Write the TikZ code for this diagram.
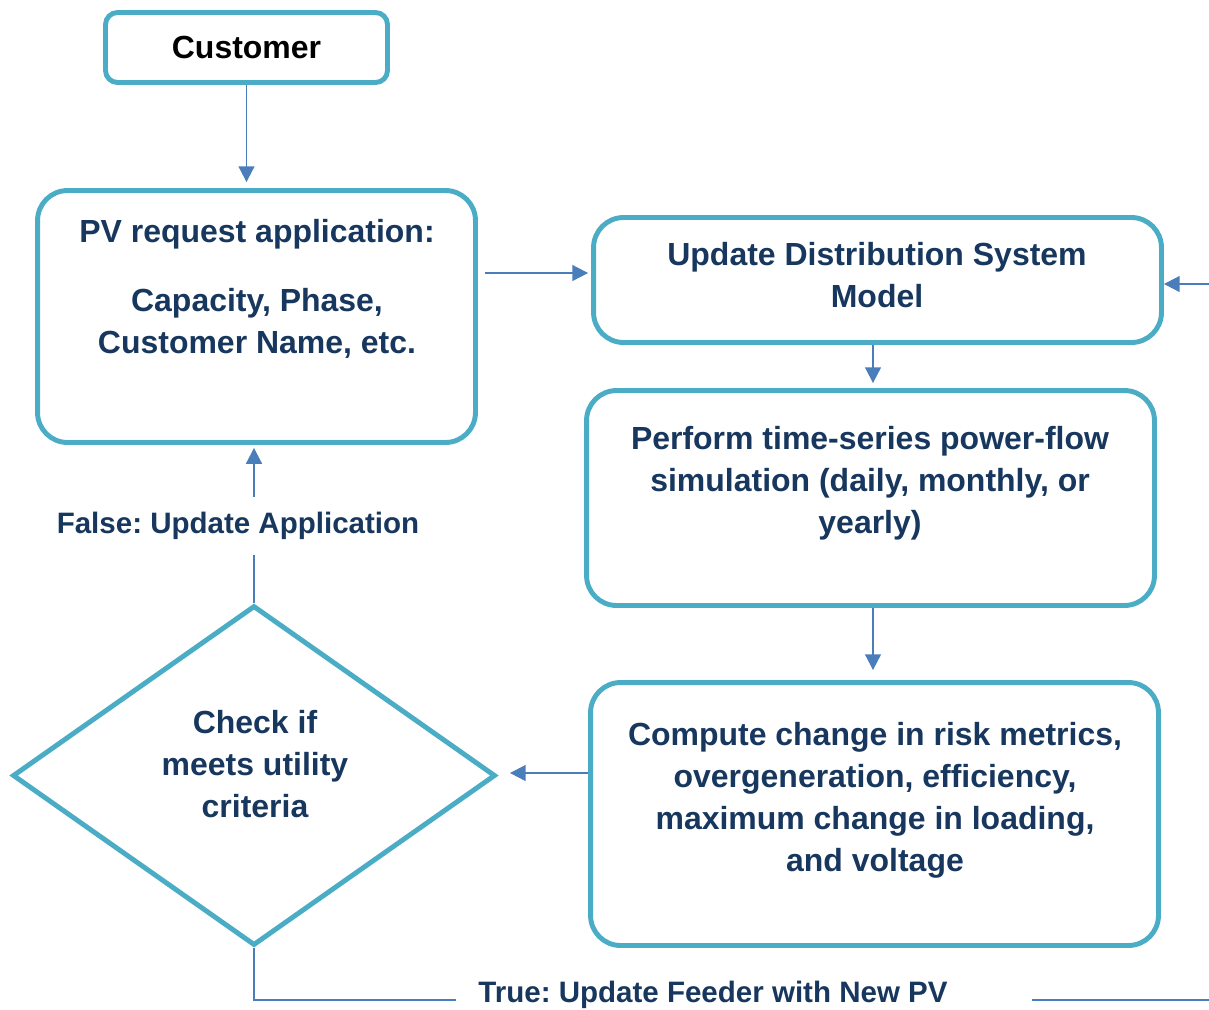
\documentclass[tikz,border=0pt]{standalone}
\usepackage{fontspec}
\setmainfont{Liberation Sans}
\frenchspacing
\usetikzlibrary{arrows.meta,shapes.geometric,positioning}
\definecolor{boxline}{HTML}{4BACC6}
\definecolor{linkline}{HTML}{4A7EBB}
\definecolor{navy}{HTML}{17375E}

\begin{document}
\begin{tikzpicture}[x=0.02cm, y=-0.02cm,
  every node/.style={font=\fontsize{18.2}{23.9}\selectfont\bfseries, text=navy, align=center},
  box/.style={draw=boxline, line width=2.8pt, rounded corners=0.6cm, minimum width=11.36cm},
  branch/.style={font=\fontsize{16.8}{23.9}\selectfont\bfseries},
  link/.style={draw=linkline, line width=1.1pt},
  arr/.style={link, -{Triangle[length=9pt,width=9pt]}}]
  \useasboundingbox (0,0) rectangle (1209,1009);

  % boxes
  \node[box, rounded corners=0.24cm, minimum width=5.64cm, minimum height=1.4cm, text=black] (cust) at (246.5,47.5) {Customer};
  \node[box, minimum width=8.76cm, minimum height=5.04cm] (pv) at (256.5,316.5) {};
  \node at (257,289) {PV request application:\\[0.54cm] Capacity, Phase,\\Customer Name, etc.};
  \node[box, minimum height=2.5cm] (update) at (877.5,280) {};
  \node at (877,275) {Update Distribution System\\Model};
  \node[box, minimum height=4.3cm] (perform) at (870.5,498) {};
  \node at (870,483) {Perform time-series power-flow\\simulation (daily, monthly, or\\yearly)};
  \node[box, minimum height=5.26cm] (compute) at (874.5,814) {};
  \node at (875,800) {Compute change in risk metrics,\\overgeneration, efficiency,\\maximum change in loading,\\and voltage};
  \node[diamond, draw=boxline, line width=2.8pt, inner sep=0pt, minimum width=9.66cm, minimum height=6.8cm] (dia) at (254,775.5) {};
  \node at (255,764) {Check if\\meets utility\\criteria};

  % labels on the decision branches
  \node[branch, inner ysep=0.3cm] (false) at (238,526) {False: Update Application};
  \node[branch, inner xsep=0pt] (true) at (713,995) {True: Update Feeder with New PV};
  \coordinate (feedin) at (1209,284);
  \coordinate (feedout) at (1209,1000);

  % connectors
  \draw[arr, shorten >=0.12cm] (cust.south) -- (cust.south |- pv.north);
  \draw[arr, shorten <=0.15cm, shorten >=0.06cm] (pv.east |- 0,273) -- (update.west |- 0,273);
  \draw[arr] (feedin) -- (update.east |- feedin);
  \draw[arr, shorten >=0.1cm] (update.south -| 873,0) -- (perform.north -| 873,0);
  \draw[arr, shorten >=0.2cm] (perform.south -| 873,0) -- (compute.north -| 873,0);
  \draw[arr, shorten >=0.24cm] (compute.west |- 0,773) -- (dia.east |- 0,773);
  \draw[link] (dia.north) -- (dia.north |- false.south);
  \draw[arr, shorten >=0.06cm] (dia.north |- false.north) -- (pv.south -| dia.north);
  \draw[link] (dia.south) |- ([xshift=-0.44cm]true.west |- feedout);
  \draw[link] ([xshift=1.68cm]true.east |- feedout) -- (feedout);
\end{tikzpicture}
\end{document}
